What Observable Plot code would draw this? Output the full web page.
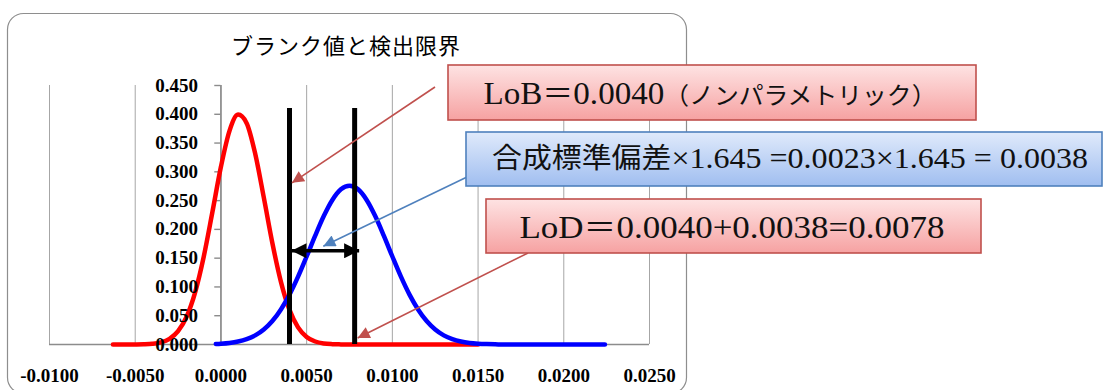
<!DOCTYPE html>
<html>
<head>
<meta charset="utf-8">
<script src="https://cdn.jsdelivr.net/npm/d3@7"></script>
<script src="https://cdn.jsdelivr.net/npm/@observablehq/plot@0.6"></script>
<style>
  html, body { margin: 0; padding: 0; background: #fff; }
  #chart { width: 1104px; height: 390px; overflow: hidden; }
</style>
</head>
<body>
<div id="chart"></div>
<script>
// Blank-sample distribution (red)
const blankX = [-0.0063, -0.0055, -0.0050, -0.0045, -0.0040, -0.0035, -0.0030, -0.0025, -0.0020, -0.0015,
                -0.0010, -0.0005, 0.0000, 0.0005, 0.0010, 0.0015, 0.0020, 0.0025, 0.0030, 0.0035,
                0.0040, 0.0045, 0.0050, 0.0055, 0.0060, 0.0065, 0.0070, 0.0075, 0.0090, 0.0120, 0.0150];
const blankY = [0.0000, 0.0000, 0.0001, 0.0004, 0.0013, 0.0038, 0.0099, 0.0232, 0.0486, 0.0912,
                0.1530, 0.2297, 0.3087, 0.3712, 0.3994, 0.3846, 0.3314, 0.2555, 0.1763, 0.1089,
                0.0601, 0.0297, 0.0131, 0.0052, 0.0018, 0.0006, 0.0002, 0.0000, 0.0000, 0.0000, 0.0000];

// Low-level sample distribution (blue)
const lowX = [-0.0003, 0.0000, 0.0005, 0.0010, 0.0015, 0.0020, 0.0025, 0.0030, 0.0035, 0.0040,
              0.0045, 0.0050, 0.0055, 0.0060, 0.0065, 0.0070, 0.0075, 0.0080, 0.0085, 0.0090,
              0.0095, 0.0100, 0.0105, 0.0110, 0.0115, 0.0120, 0.0125, 0.0130, 0.0135, 0.0140,
              0.0145, 0.0150, 0.0155, 0.0160, 0.0165, 0.0170, 0.0224];
const lowY = [0.0009, 0.0014, 0.0027, 0.0051, 0.0092, 0.0158, 0.0260, 0.0407, 0.0609, 0.0867,
              0.1179, 0.1529, 0.1891, 0.2231, 0.2511, 0.2696, 0.2760, 0.2696, 0.2511, 0.2231,
              0.1891, 0.1529, 0.1179, 0.0867, 0.0609, 0.0407, 0.0260, 0.0158, 0.0092, 0.0051,
              0.0027, 0.0014, 0.0007, 0.0003, 0.0001, 0.0000, 0.0000];

// Limits
const lobValue = 0.0040;
const lodValue = 0.0078;
const limitTop = 0.41;
const spanArrowY = 0.162;

// Axes
const xTicks = [-0.0100, -0.0050, 0.0000, 0.0050, 0.0100, 0.0150, 0.0200, 0.0250];
const xTickLabels = ["-0.0100", "-0.0050", "0.0000", "0.0050", "0.0100", "0.0150", "0.0200", "0.0250"];
const yTicks = [0.000, 0.050, 0.100, 0.150, 0.200, 0.250, 0.300, 0.350, 0.400, 0.450];
const yTickLabels = ["0.000", "0.050", "0.100", "0.150", "0.200", "0.250", "0.300", "0.350", "0.400", "0.450"];

// Texts (split into Latin / CJK runs)
const titleText = "ブランク値と検出限界";
const lobParts = [["LoB", "latin", 32], ["＝", "cjk", 30], ["0.0040", "latin", 32], ["（ノンパラメトリック）", "cjk", 24]];
const sdParts = [["合成標準偏差", "cjk", 28], ["×1.645 =0.0023×1.645 = 0.0038", "latin", 30]];
const lodParts = [["LoD", "latin", 32], ["＝", "cjk", 30], ["0.0040+0.0038=0.0078", "latin", 32]];

const blank = blankX.map((x, i) => ({x, y: blankY[i]}));
const low = lowX.map((x, i) => ({x, y: lowY[i]}));

const serifFont = "Liberation Serif";
const cjkFont = "Noto Sans CJK JP";

const plot = Plot.plot({
  width: 1104,
  height: 390,
  marginLeft: 49,
  marginRight: 455,
  marginTop: 85,
  marginBottom: 46,
  style: {background: "transparent", overflow: "visible"},
  x: {domain: [-0.01, 0.025], axis: null},
  y: {domain: [0, 0.45], axis: null},
  marks: [
    Plot.ruleX(xTicks, {y1: 0, y2: 0.45, stroke: "#a6a6a6", strokeWidth: 1}),
    Plot.ruleY([0], {x1: -0.01, x2: 0.025, stroke: "#8c8c8c", strokeWidth: 1.6}),
    Plot.ruleX([0], {y1: 0, y2: 0.45, stroke: "#8c8c8c", strokeWidth: 1.6}),
    Plot.ruleY(yTicks, {x1: -0.00036, x2: 0, stroke: "#8c8c8c", strokeWidth: 1.4}),
    Plot.line(blank, {x: "x", y: "y", stroke: "#ff0000", strokeWidth: 4.5, curve: "monotone-x"}),
    Plot.line(low, {x: "x", y: "y", stroke: "#0000ff", strokeWidth: 4.5, curve: "monotone-x"}),
    Plot.ruleX([lobValue, lodValue], {y1: 0, y2: limitTop, stroke: "#000", strokeWidth: 5}),
    Plot.text(yTicks, {x: 0, y: d => d, text: (d, i) => yTickLabels[i], dx: -23, textAnchor: "end",
      fontSize: 19, fontWeight: "bold", fontFamily: serifFont, fill: "#000"}),
    Plot.text(xTicks, {x: d => d, y: 0, text: (d, i) => xTickLabels[i], dy: 31,
      fontSize: 19, fontWeight: "bold", fontFamily: serifFont, fill: "#000"})
  ]
});

const svg = d3.select(plot);
const sx = plot.scale("x"), sy = plot.scale("y");
const px = v => sx.apply(v), py = v => sy.apply(v);

// Chart frame and title underneath everything
const under = svg.insert("g", ":first-child");
under.append("rect")
  .attr("x", 7.5).attr("y", 13.5).attr("width", 679).attr("height", 380).attr("rx", 16)
  .attr("fill", "#fff").attr("stroke", "#8e8e8e").attr("stroke-width", 1.2);
under.append("text")
  .attr("x", 346).attr("y", 44).attr("text-anchor", "middle").attr("dominant-baseline", "central")
  .style("font-family", cjkFont).style("font-size", "22px")
  .attr("letter-spacing", 1).attr("fill", "#000").text(titleText);

// Gradients and arrowheads
const defs = svg.insert("defs", ":first-child");
function grad(id, top, bottom) {
  const g = defs.append("linearGradient").attr("id", id)
    .attr("x1", 0).attr("y1", 0).attr("x2", 0).attr("y2", 1);
  g.append("stop").attr("offset", "0%").attr("stop-color", top);
  g.append("stop").attr("offset", "100%").attr("stop-color", bottom);
}
grad("pinkFill", "#fee3e3", "#f6a2a2");
grad("blueFill", "#e0eafb", "#a0bef0");
function marker(id, color, w, h) {
  defs.append("marker").attr("id", id)
    .attr("viewBox", "0 0 10 10").attr("refX", 10).attr("refY", 5)
    .attr("markerWidth", w).attr("markerHeight", h)
    .attr("markerUnits", "userSpaceOnUse").attr("orient", "auto-start-reverse")
    .append("path").attr("d", "M0,0L10,5L0,10Z").attr("fill", color);
}
marker("headBlack", "#000", 16, 15);
marker("headRed", "#c0504d", 14, 12);
marker("headBlue", "#4f81bd", 14, 12);

const over = svg.append("g");

// Double-headed arrow between LoB and LoD
over.append("line")
  .attr("x1", px(lobValue) + 2.5).attr("x2", px(lodValue) + 5)
  .attr("y1", py(spanArrowY)).attr("y2", py(spanArrowY))
  .attr("stroke", "#000").attr("stroke-width", 3.5)
  .attr("marker-start", "url(#headBlack)").attr("marker-end", "url(#headBlack)");

// Callout leaders
function leader(from, to, color, head) {
  over.append("line")
    .attr("x1", from[0]).attr("y1", from[1]).attr("x2", to[0]).attr("y2", to[1])
    .attr("stroke", color).attr("stroke-width", 1.6)
    .attr("marker-end", `url(#${head})`);
}
leader([435, 87], [px(lobValue) + 3, py(0.28)], "#c0504d", "headRed");
leader([467, 177], [px(0.0060), py(0.17)], "#4f81bd", "headBlue");
leader([528, 253], [px(lodValue) + 3.5, py(0.0105)], "#c0504d", "headRed");

// Callout boxes
function box(x, y, w, h, fill, stroke) {
  over.append("rect").attr("x", x).attr("y", y).attr("width", w).attr("height", h)
    .attr("fill", `url(#${fill})`).attr("stroke", stroke).attr("stroke-width", 1.6);
}
function label(cx, baseline, width, parts) {
  const t = over.append("text")
    .attr("x", cx).attr("y", baseline).attr("text-anchor", "middle").attr("fill", "#111")
    .attr("textLength", width).attr("lengthAdjust", "spacingAndGlyphs");
  for (const [s, kind, size] of parts) {
    t.append("tspan")
      .style("font-family", kind === "cjk" ? cjkFont : serifFont)
      .style("font-size", size + "px")
      .text(s);
  }
}
box(448, 65, 528, 55, "pinkFill", "#c0504d");
box(466, 132, 636, 54, "blueFill", "#4f81bd");
box(486, 199, 495, 54, "pinkFill", "#c0504d");

label(710, 104, 453, lobParts);
label(790, 168, 596, sdParts);
label(732, 238, 425, lodParts);

document.getElementById("chart").appendChild(plot);
</script>
</body>
</html>
